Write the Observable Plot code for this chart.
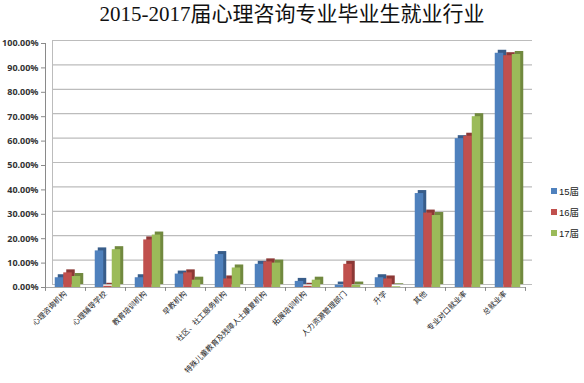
<!DOCTYPE html>
<html><head><meta charset="utf-8">
<script src="https://cdn.jsdelivr.net/npm/d3@7"></script>
<script src="https://cdn.jsdelivr.net/npm/@observablehq/plot@0.6"></script>
<style>
body{margin:0;background:#fff;width:584px;height:383px;overflow:hidden;position:relative;font-family:"Liberation Sans","Noto Sans CJK SC",sans-serif;}
#title{height:30px;line-height:28px;text-align:center;font-family:"Liberation Serif","Noto Sans CJK SC",serif;font-size:21px;color:#111;}
#legend{position:absolute;left:551px;top:180px;font-size:9.5px;color:#222;}
#legend div{height:21px;display:flex;align-items:center;}
#legend span.sw{display:inline-block;width:6px;height:6px;margin-right:2px;}
</style></head>
<body>
<div id="title">2015-2017届心理咨询专业毕业生就业行业</div>
<div id="chart"></div>
<div id="legend"></div>
<script>
const categories = ["心理咨询机构","心理辅导学校","教育培训机构","早教机构","社区、社工服务机构","特殊儿童教育及残障人士康复机构","拓展培训机构","人力资源管理部门","升学","其他","专业对口就业率","总就业率"];
const seriesNames = ["15届","16届","17届"];
const v15 = [0.040,0.150,0.040,0.055,0.135,0.095,0.025,0.010,0.040,0.385,0.610,0.960];
const v16 = [0.060,0.005,0.195,0.060,0.035,0.105,0.005,0.095,0.035,0.305,0.620,0.950];
const v17 = [0.045,0.155,0.215,0.030,0.080,0.100,0.030,0.010,0.003,0.295,0.700,0.955];
const yTicks = [0,0.1,0.2,0.3,0.4,0.5,0.6,0.7,0.8,0.9,1.0];
const colors = ["#4F81BD","#C0504D","#9BBB59"];
const sideColors = ["#385D8A","#8C3836","#71893F"];

const values = [v15,v16,v17];
const rows = [];
seriesNames.forEach((s,i)=>categories.forEach((c,j)=>rows.push({category:c,series:s,value:values[i][j]})));

const offs = [-6,2.5,11];
const barMarks = [];
seriesNames.forEach((s,i)=>{
  const data = rows.filter(r=>r.series===s);
  barMarks.push(Plot.barY(data,{x:"category",y:"value",fill:sideColors[i],insetLeft:15.75,insetRight:15.75,dx:offs[i]+3,dy:-3}));
  barMarks.push(Plot.barY(data,{x:"category",y:"value",fill:colors[i],insetLeft:15.75,insetRight:15.75,dx:offs[i]}));
});

const chart = Plot.plot({
  width:584, height:353,
  marginTop:13, marginBottom:96, marginLeft:45, marginRight:59,
  x:{domain:categories, padding:0, label:null},
  y:{domain:[0,1], label:null},
  style:{background:"#fff", color:"#222"},
  marks:[
    Plot.ruleY(yTicks,{y:d=>d,dx:7,dy:-3,stroke:"#bcbcbc",strokeWidth:1.2}),
    Plot.link(yTicks,{x1:()=>categories[0],x2:()=>categories[0],y1:d=>d,y2:d=>d,dx:-20,stroke:"#bcbcbc"}),
    Plot.ruleX([categories[0]],{x:d=>d,dx:-13,dy:-3,y1:0,y2:1,stroke:"#bcbcbc"}),
    Plot.ruleY([0],{y:d=>d,stroke:"#a8a8a8"}),
    Plot.ruleX([categories[0]],{x:d=>d,dx:-20,y1:0,y2:1,stroke:"#8a8a8a"}),
    Plot.ruleX(categories,{x:d=>d,dx:-20,y1:0,y2:-0.016,stroke:"#8a8a8a"}),
    Plot.ruleX([categories[categories.length-1]],{x:d=>d,dx:20,y1:0,y2:-0.016,stroke:"#8a8a8a"}),
    ...barMarks,
    Plot.axisY(yTicks,{tickFormat:d3.format(".2%"),tickSize:4,tickPadding:3,fontSize:9,fontWeight:"bold",fill:"#333",stroke:"#8a8a8a",label:null}),
    Plot.axisX({tickSize:0,tickPadding:5,tickRotate:-45,fontSize:7.5,fill:"#222",fontFamily:"'Noto Sans CJK SC',serif",label:null})
  ]
});
document.getElementById("chart").appendChild(chart);

const lg = document.getElementById("legend");
seriesNames.forEach((s,i)=>{
  const d=document.createElement("div");
  d.innerHTML=`<span class="sw" style="background:${colors[i]}"></span>${s}`;
  lg.appendChild(d);
});
</script>
</body></html>
